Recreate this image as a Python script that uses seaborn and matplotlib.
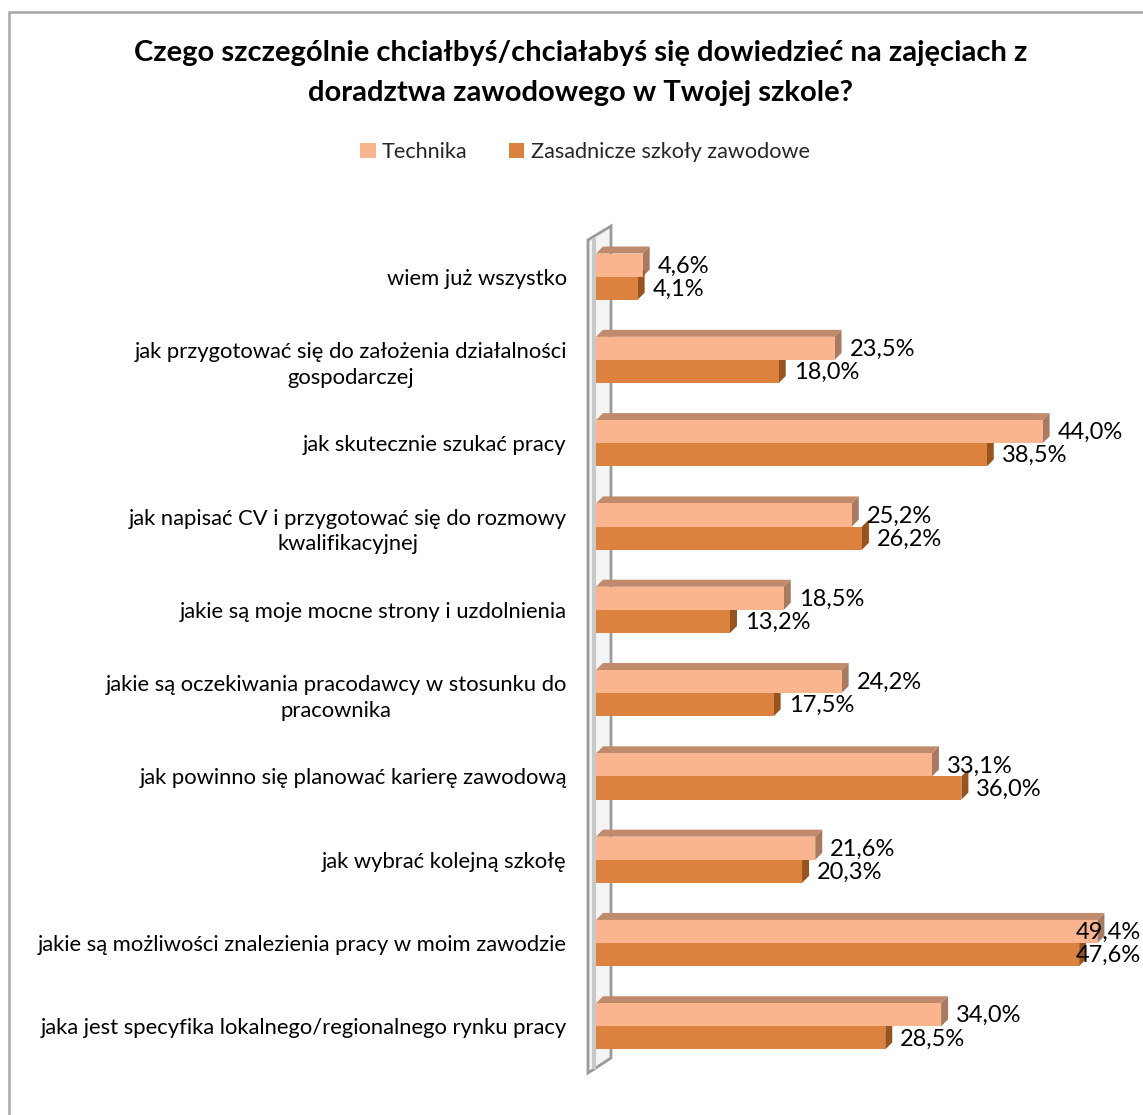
import matplotlib
matplotlib.use("Agg")
import matplotlib.pyplot as plt
import seaborn as sns
import pandas as pd
import numpy as np
from matplotlib.patches import Polygon, Rectangle

categories = [
    "wiem już wszystko",
    "jak przygotować się do założenia działalności\ngospodarczej",
    "jak skutecznie szukać pracy",
    "jak napisać CV i przygotować się do rozmowy\nkwalifikacyjnej",
    "jakie są moje mocne strony i uzdolnienia",
    "jakie są oczekiwania pracodawcy w stosunku do\npracownika",
    "jak powinno się planować karierę zawodową",
    "jak wybrać kolejną szkołę",
    "jakie są możliwości znalezienia pracy w moim zawodzie",
    "jaka jest specyfika lokalnego/regionalnego rynku pracy",
]
series_names = ["Technika", "Zasadnicze szkoły zawodowe"]
technika = [4.6, 23.5, 44.0, 25.2, 18.5, 24.2, 33.1, 21.6, 49.4, 34.0]
zsz = [4.1, 18.0, 38.5, 26.2, 13.2, 17.5, 36.0, 20.3, 47.6, 28.5]
title_lines = ["Czego szczególnie chciałbyś/chciałabyś się dowiedzieć na zajęciach z",
               "doradztwa zawodowego w Twojej szkole?"]

front_colors = ["#FAB58F", "#DB823E"]
top_colors = ["#C08A6C", "#B06A35"]
side_colors = ["#A97A62", "#97541F"]

df = pd.DataFrame({
    "kategoria": categories * 2,
    "seria": [series_names[0]] * len(categories) + [series_names[1]] * len(categories),
    "wartosc": technika + zsz,
})

sns.set_theme(style="white")
plt.rcParams["font.family"] = ["Lato", "DejaVu Sans"]

W, H = 1143, 1115
fig = plt.figure(figsize=(W / 100, H / 100), dpi=100)
ax_l, ax_r, ax_t, ax_b = 596, 1143, 235, 1068
ax = fig.add_axes([ax_l / W, 1 - ax_b / H, (ax_r - ax_l) / W, (ax_b - ax_t) / H])
ax.patch.set_visible(False)

sns.barplot(data=df, y="kategoria", x="wartosc", hue="seria", orient="h",
            palette=front_colors, width=0.555, ax=ax, saturation=1,
            edgecolor="none", linewidth=0, zorder=3)

xmax = (ax_r - ax_l) / 10.15
ax.set_xlim(0, xmax)
ax.set_ylim(len(categories) - 0.5, -0.5)
px_x = (ax_r - ax_l) / xmax
px_y = (ax_b - ax_t) / len(categories)
dpx = 7
ddx = dpx / px_x
ddy = dpx / px_y

for s in ax.spines.values():
    s.set_visible(False)
ax.set_xticks([])
ax.set_xlabel("")
ax.set_ylabel("")
ax.tick_params(axis="y", length=0, pad=21, labelsize=15.8)
for lbl in ax.get_yticklabels():
    lbl.set_multialignment("center")
    lbl.set_linespacing(1.35)
    lbl.set_color("#000000")

leg = ax.get_legend()
handles, labels = ax.get_legend_handles_labels()
if leg is not None:
    leg.remove()

# 3D faces for bars
for i, cont in enumerate(ax.containers):
    vals = technika if i == 0 else zsz
    for p, v in zip(cont.patches, vals):
        x0 = p.get_x()
        y0 = p.get_y()
        h = p.get_height()
        x1 = x0 + p.get_width()
        ytop = y0
        ybot = y0 + h
        side = Polygon([(x1, ytop), (x1 + ddx, ytop - ddy), (x1 + ddx, ybot - ddy), (x1, ybot)],
                       closed=True, facecolor=side_colors[i], edgecolor="none", zorder=2)
        ax.add_patch(side)
        if i == 0:
            top = Polygon([(x0, ytop), (x0 + ddx, ytop - ddy), (x1 + ddx, ytop - ddy), (x1, ytop)],
                          closed=True, facecolor=top_colors[i], edgecolor="none", zorder=2)
            ax.add_patch(top)
        label = f"{v:.1f}%".replace(".", ",")
        tx = x1 + ddx + 8 / px_x
        ha = "left"
        if tx + 64 / px_x > xmax:
            tx = xmax - 2 / px_x
            ha = "right"
        ax.text(tx, y0 + h / 2 + 1 / px_y, label, ha=ha, va="center",
                fontsize=17, color="#000000", zorder=5)
        p.set_zorder(3)

def fx(px):
    return px / W
def fy(py):
    return 1 - py / H

# side wall (decoration)
wall = Polygon([(fx(ax_l - 8), fy(ax_t + 5)), (fx(ax_l + 15), fy(ax_t - 9)),
                (fx(ax_l + 15), fy(ax_b - 10)), (fx(ax_l - 8), fy(ax_b + 5))],
               closed=True, transform=fig.transFigure, facecolor="#F4F4F4",
               edgecolor="#9A9A9A", linewidth=2)
inner = Polygon([(fx(ax_l - 2), fy(ax_t + 3)), (fx(ax_l - 2), fy(ax_b + 1))],
                closed=False, transform=fig.transFigure, fill=False,
                edgecolor="#C8C8C8", linewidth=3)
frame = Rectangle((fx(9), fy(H + 20)), (W + 20) / W, (H + 8) / H, transform=fig.transFigure,
                  fill=False, edgecolor="#A6A6A6", linewidth=1.8)
for art in (frame, wall, inner):
    art.set_zorder(-5)
    fig.add_artist(art)
ax.set_zorder(1)

for k, line in enumerate(title_lines):
    fig.text(581 / W, fy(53 + 40 * k), line, ha="center", va="center", fontsize=21,
             fontweight="bold", color="#000000")

fig.legend(handles, labels, loc="center", bbox_to_anchor=(585 / W, fy(152)), ncol=2,
           frameon=False, fontsize=15.6, handlelength=0.7, handleheight=0.7,
           handletextpad=0.3, columnspacing=1.9, borderaxespad=0)

fig.savefig("out.png", dpi=100)
